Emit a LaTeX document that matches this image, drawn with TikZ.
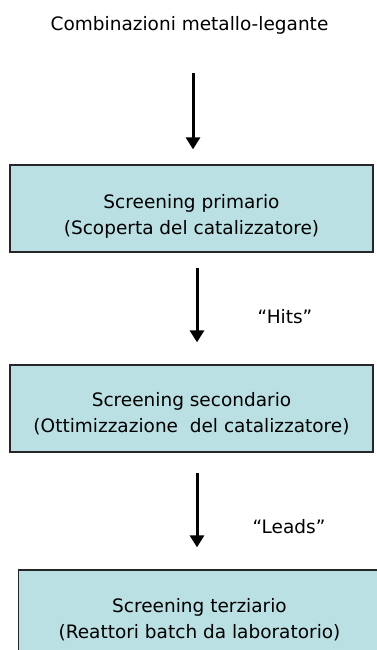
\documentclass[tikz,border=0pt]{standalone}
\usepackage{fontspec}
\setmainfont{DejaVu Sans}
\usetikzlibrary{positioning,arrows.meta}

\definecolor{boxblue}{RGB}{187,224,227}
\newcommand{\topgap}[1]{\rule{0pt}{#1}}

\tikzset{
  stage/.style={draw=black!85, line width=1.3pt, fill=boxblue,
    minimum width=363pt, minimum height=87pt, align=center,
    font=\fontsize{18.5}{26}\selectfont},
  flow/.style={line width=3pt, -{Triangle[width=14pt,length=12pt]}},
  tag/.style={font=\fontsize{18.5}{22}\selectfont}
}

\begin{document}
\begin{tikzpicture}[x=1pt,y=-1pt]
    \useasboundingbox (0,0) rectangle (377,650);
    \clip (0,0) rectangle (377,650);
    % input
    \node[tag] (combo) at (189.5,25) {Combinazioni metallo-legante};
    % stages
    \node[stage] (prim) at (191.5,208.5) {\topgap{30pt}Screening primario\\(Scoperta del catalizzatore)};
    \node[stage] (sec) at (191.5,408.5) {\topgap{24pt}Screening secondario\\(Ottimizzazione\ \ del catalizzatore)};
    \node[stage, minimum width=362pt, minimum height=100pt] (ter) at (199.5,620)
      {Screening terziario\\(Reattori batch da laboratorio)};
    % arrows
    \draw[flow] ([xshift=3.5pt,yshift=-36pt]combo.south) -- ([xshift=1.5pt,yshift=15pt]prim.north);
    \draw[flow] ([xshift=5.5pt,yshift=-15pt]prim.south) -- ([xshift=5.5pt,yshift=22pt]sec.north);
    \draw[flow] ([xshift=5.5pt,yshift=-20pt]sec.south) -- ([xshift=-2.5pt,yshift=22pt]ter.north);
    % labels
    \node[tag] (hits) at (285,317) {``Hits''};
    \node[tag] (leads) at (289,527) {``Leads''};
\end{tikzpicture}
\end{document}
